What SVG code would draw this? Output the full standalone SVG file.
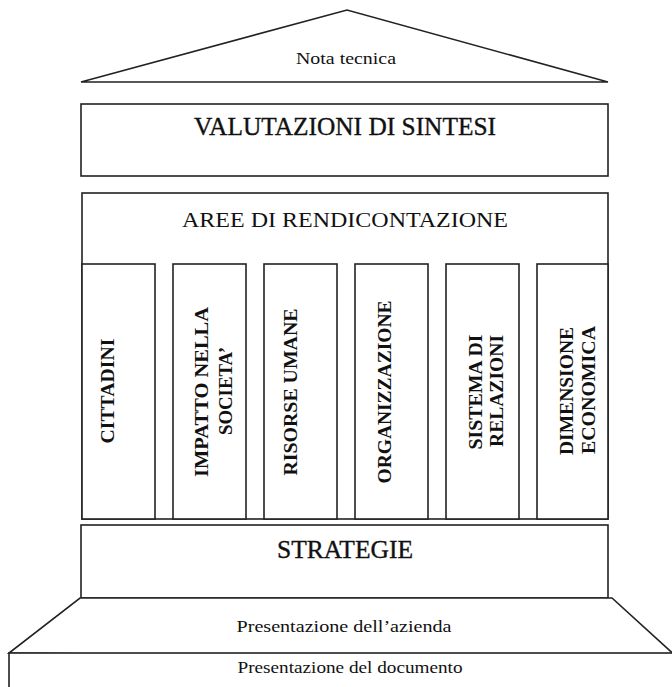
<svg xmlns="http://www.w3.org/2000/svg" width="672" height="687" viewBox="0 0 672 687">
<style>
.sh{fill:#fff;stroke:#222;stroke-width:1.6}
.t{font-family:"Liberation Serif","Times New Roman",serif;fill:#111;text-anchor:middle}
.big{font-size:25px;stroke:#111;stroke-width:0.35}
.mid{font-size:22px}
.sm{font-size:17px}
.col{font-size:19px;font-weight:bold}
</style>
<rect width="672" height="687" fill="#fff"/>
<g id="nota-tecnica">
<polygon class="sh" points="81,82 347,10 608,82"/>
<text class="t sm" x="346" y="64" textLength="100" lengthAdjust="spacingAndGlyphs">Nota tecnica</text>
</g>
<g id="valutazioni">
<rect class="sh" x="81" y="104" width="527" height="72"/>
<text class="t big" x="345" y="135" textLength="302" lengthAdjust="spacingAndGlyphs">VALUTAZIONI DI SINTESI</text>
</g>
<g id="aree">
<rect class="sh" x="82" y="193" width="526" height="326"/>
<text class="t mid" x="345" y="227" textLength="326" lengthAdjust="spacingAndGlyphs">AREE DI RENDICONTAZIONE</text>
</g>
<g id="cittadini">
<rect class="sh" x="82" y="264" width="73" height="255"/>
<text class="t col" transform="translate(114,391) rotate(-90)" textLength="105" lengthAdjust="spacingAndGlyphs">CITTADINI</text>
</g>
<g id="impatto">
<rect class="sh" x="173" y="264" width="73" height="255"/>
<text class="t col" transform="translate(208,392) rotate(-90)" textLength="170" lengthAdjust="spacingAndGlyphs">IMPATTO NELLA</text>
<text class="t col" transform="translate(232,391) rotate(-90)" textLength="88" lengthAdjust="spacingAndGlyphs">SOCIETA’</text>
</g>
<g id="risorse">
<rect class="sh" x="264" y="264" width="73" height="255"/>
<text class="t col" transform="translate(297,392) rotate(-90)" textLength="167" lengthAdjust="spacingAndGlyphs">RISORSE UMANE</text>
</g>
<g id="organizzazione">
<rect class="sh" x="355" y="264" width="73" height="255"/>
<text class="t col" transform="translate(391,392) rotate(-90)" textLength="183" lengthAdjust="spacingAndGlyphs">ORGANIZZAZIONE</text>
</g>
<g id="sistema">
<rect class="sh" x="446" y="264" width="73" height="255"/>
<text class="t col" transform="translate(482,392) rotate(-90)" textLength="115" lengthAdjust="spacingAndGlyphs">SISTEMA DI</text>
<text class="t col" transform="translate(503,391) rotate(-90)" textLength="112" lengthAdjust="spacingAndGlyphs">RELAZIONI</text>
</g>
<g id="dimensione">
<rect class="sh" x="537" y="264" width="71" height="255"/>
<text class="t col" transform="translate(573,391) rotate(-90)" textLength="128" lengthAdjust="spacingAndGlyphs">DIMENSIONE</text>
<text class="t col" transform="translate(595,390) rotate(-90)" textLength="128" lengthAdjust="spacingAndGlyphs">ECONOMICA</text>
</g>
<g id="strategie">
<rect class="sh" x="81" y="525" width="527" height="73"/>
<text class="t big" x="345" y="558" textLength="136" lengthAdjust="spacingAndGlyphs">STRATEGIE</text>
</g>
<g id="presentazione-azienda">
<polygon class="sh" points="80,598 612,598 680,660 9,653"/>
<text class="t sm" x="344" y="632" textLength="215" lengthAdjust="spacingAndGlyphs">Presentazione dell’azienda</text>
</g>
<g id="presentazione-documento">
<rect class="sh" x="9" y="653" width="680" height="60"/>
<text class="t sm" x="350" y="673" textLength="225" lengthAdjust="spacingAndGlyphs">Presentazione del documento</text>
</g>
<g id="connectors"></g>
</svg>
